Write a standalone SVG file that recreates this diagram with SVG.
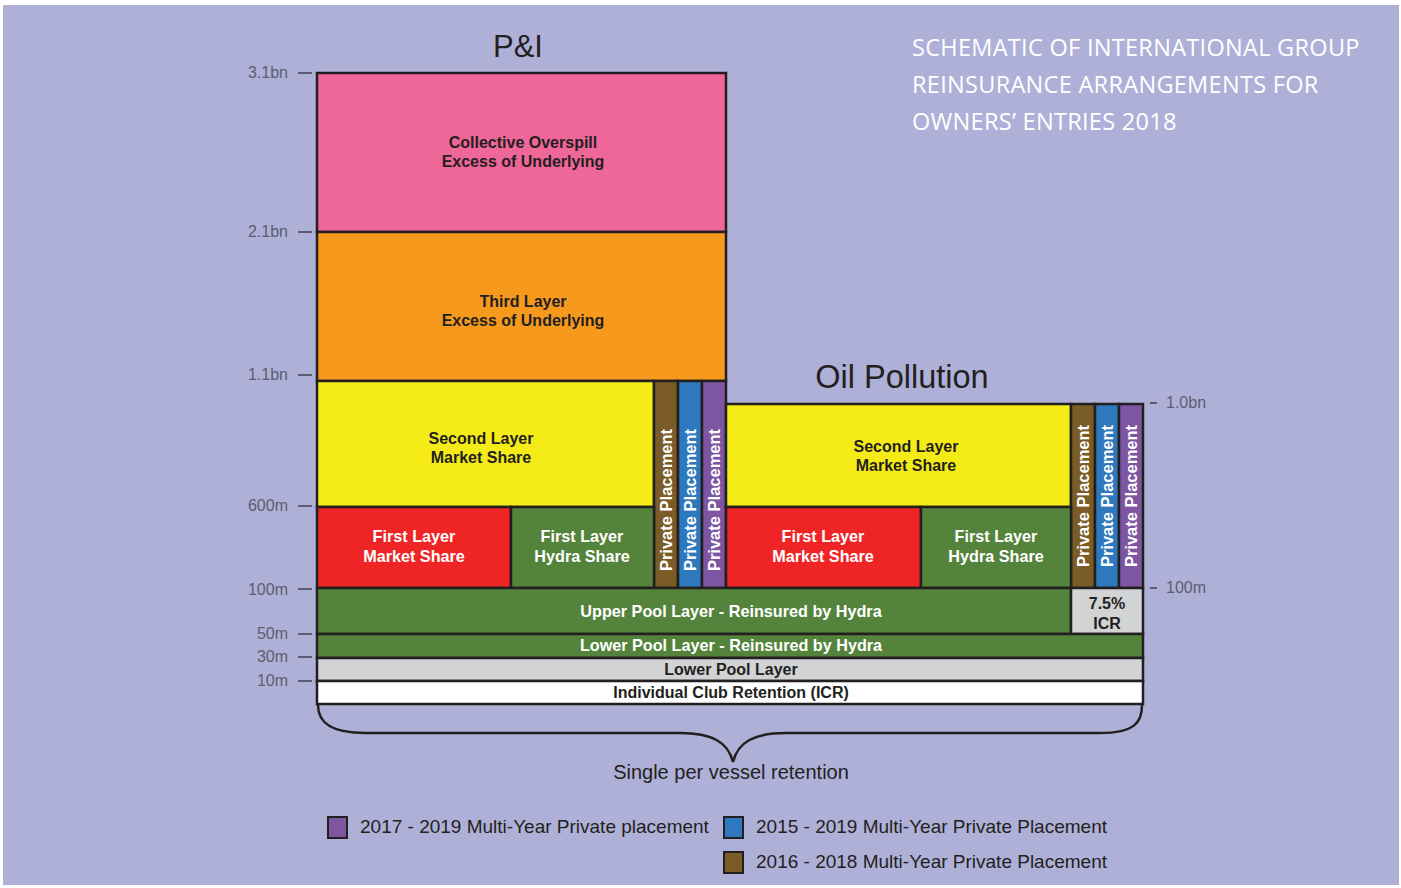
<svg xmlns="http://www.w3.org/2000/svg" width="1401" height="888" viewBox="0 0 1401 888">
<style>
.blk{stroke:#231F20;stroke-width:2.5}
.lbl{font-family:"Liberation Sans",Arial,sans-serif;font-weight:bold;font-size:16px;fill:#231F20;text-anchor:middle}
.wl{font-family:"Liberation Sans",Arial,sans-serif;font-weight:bold;font-size:16.2px;fill:#FFFFFF;text-anchor:middle}
.pp{font-family:"Liberation Sans",Arial,sans-serif;font-weight:bold;font-size:16.5px;fill:#FFFFFF;text-anchor:middle}
.ax{font-family:"Liberation Sans",Arial,sans-serif;font-size:16px;fill:#5C5D6E}
.tick{stroke:#5C5D6E;stroke-width:2}
.head{font-family:"Liberation Sans",Arial,sans-serif;font-size:31px;fill:#231F20;text-anchor:middle}
.title{font-family:"Open Sans","Liberation Sans",sans-serif;font-weight:400;font-size:23.5px;fill:#FFFFFF;letter-spacing:0.3px}
.leg{font-family:"Liberation Sans",Arial,sans-serif;font-size:19px;fill:#231F20}
.sw{stroke:#231F20;stroke-width:2}
</style>
<rect x="0" y="0" width="1401" height="888" fill="#FFFFFF"/>
<rect x="3" y="5" width="1396" height="880" fill="#AFB0D8"/>

<g id="titles">
<text class="head" x="518" y="57">P&amp;I</text>
<text class="head" x="902" y="388" style="font-size:32.5px">Oil Pollution</text>
<text class="title" x="912" y="56">SCHEMATIC OF INTERNATIONAL GROUP</text>
<text class="title" x="912" y="93">REINSURANCE ARRANGEMENTS FOR</text>
<text class="title" x="912" y="130">OWNERS’ ENTRIES 2018</text>
</g>

<g id="axis-left">
<line class="tick" x1="298" y1="73" x2="312" y2="73"/><text class="ax" x="288" y="78" text-anchor="end">3.1bn</text>
<line class="tick" x1="298" y1="232" x2="312" y2="232"/><text class="ax" x="288" y="237" text-anchor="end">2.1bn</text>
<line class="tick" x1="298" y1="375" x2="312" y2="375"/><text class="ax" x="288" y="380" text-anchor="end">1.1bn</text>
<line class="tick" x1="298" y1="506" x2="312" y2="506"/><text class="ax" x="288" y="511" text-anchor="end">600m</text>
<line class="tick" x1="298" y1="589" x2="312" y2="589"/><text class="ax" x="288" y="595" text-anchor="end">100m</text>
<line class="tick" x1="298" y1="634" x2="312" y2="634"/><text class="ax" x="288" y="639" text-anchor="end">50m</text>
<line class="tick" x1="298" y1="657" x2="312" y2="657"/><text class="ax" x="288" y="662" text-anchor="end">30m</text>
<line class="tick" x1="298" y1="681" x2="312" y2="681"/><text class="ax" x="288" y="686" text-anchor="end">10m</text>
</g>
<g id="axis-right">
<line class="tick" x1="1150" y1="403" x2="1157" y2="403"/><text class="ax" x="1166" y="408">1.0bn</text>
<line class="tick" x1="1150" y1="588" x2="1157" y2="588"/><text class="ax" x="1166" y="593">100m</text>
</g>

<g id="collective-overspill">
<rect class="blk" x="317" y="73" width="409" height="159" fill="#EF6699"/>
<text class="lbl" x="523" y="148">Collective Overspill</text>
<text class="lbl" x="523" y="167">Excess of Underlying</text>
</g>
<g id="third-layer">
<rect class="blk" x="317" y="232" width="409" height="149" fill="#F7991D"/>
<text class="lbl" x="523" y="307">Third Layer</text>
<text class="lbl" x="523" y="326">Excess of Underlying</text>
</g>
<g id="pi-second-layer">
<rect class="blk" x="317" y="381" width="337" height="126" fill="#F5EC17"/>
<text class="lbl" x="481" y="444">Second Layer</text>
<text class="lbl" x="481" y="463">Market Share</text>
</g>
<g id="pi-pp-brown">
<rect class="blk" x="654" y="381" width="24" height="207" fill="#7B5C27"/>
<text class="pp" transform="translate(671.5,500) rotate(-90)">Private Placement</text>
</g>
<g id="pi-pp-blue">
<rect class="blk" x="678" y="381" width="24" height="207" fill="#2E78BD"/>
<text class="pp" transform="translate(695.5,500) rotate(-90)">Private Placement</text>
</g>
<g id="pi-pp-purple">
<rect class="blk" x="702" y="381" width="24" height="207" fill="#7E55A1"/>
<text class="pp" transform="translate(719.5,500) rotate(-90)">Private Placement</text>
</g>
<g id="pi-first-market">
<rect class="blk" x="317" y="507" width="194" height="81" fill="#EE2425"/>
<text class="wl" x="414" y="542">First Layer</text>
<text class="wl" x="414" y="562">Market Share</text>
</g>
<g id="pi-first-hydra">
<rect class="blk" x="511" y="507" width="143" height="81" fill="#54833B"/>
<text class="wl" x="582" y="542">First Layer</text>
<text class="wl" x="582" y="562">Hydra Share</text>
</g>

<g id="op-second-layer">
<rect class="blk" x="726" y="404" width="345" height="103" fill="#F5EC17"/>
<text class="lbl" x="906" y="452">Second Layer</text>
<text class="lbl" x="906" y="471">Market Share</text>
</g>
<g id="op-pp-brown">
<rect class="blk" x="1071" y="404" width="24" height="184" fill="#7B5C27"/>
<text class="pp" transform="translate(1088.5,496) rotate(-90)">Private Placement</text>
</g>
<g id="op-pp-blue">
<rect class="blk" x="1095" y="404" width="24" height="184" fill="#2E78BD"/>
<text class="pp" transform="translate(1112.5,496) rotate(-90)">Private Placement</text>
</g>
<g id="op-pp-purple">
<rect class="blk" x="1119" y="404" width="24" height="184" fill="#7E55A1"/>
<text class="pp" transform="translate(1136.5,496) rotate(-90)">Private Placement</text>
</g>
<g id="op-first-market">
<rect class="blk" x="726" y="507" width="195" height="81" fill="#EE2425"/>
<text class="wl" x="823" y="542">First Layer</text>
<text class="wl" x="823" y="562">Market Share</text>
</g>
<g id="op-first-hydra">
<rect class="blk" x="921" y="507" width="150" height="81" fill="#54833B"/>
<text class="wl" x="996" y="542">First Layer</text>
<text class="wl" x="996" y="562">Hydra Share</text>
</g>

<g id="upper-pool">
<rect class="blk" x="317" y="588" width="754" height="46" fill="#54833B"/>
<text class="wl" x="731" y="617">Upper Pool Layer - Reinsured by Hydra</text>
</g>
<g id="icr-75">
<rect class="blk" x="1071" y="588" width="72" height="46" fill="#D1D3D4"/>
<text class="lbl" x="1107" y="609">7.5%</text>
<text class="lbl" x="1107" y="629">ICR</text>
</g>
<g id="lower-pool-hydra">
<rect class="blk" x="317" y="634" width="826" height="24" fill="#54833B"/>
<text class="wl" x="731" y="651">Lower Pool Layer - Reinsured by Hydra</text>
</g>
<g id="lower-pool">
<rect class="blk" x="317" y="658" width="826" height="23" fill="#D1D3D4"/>
<text class="lbl" x="731" y="675">Lower Pool Layer</text>
</g>
<g id="icr">
<rect class="blk" x="317" y="681" width="826" height="23" fill="#FFFFFF"/>
<text class="lbl" x="731" y="698">Individual Club Retention (ICR)</text>
</g>

<g id="connectors">
<path d="M318,705 C318,722 330,733 365,733 L680,733 C712,733 728,742 733,762 C738,742 754,733 786,733 L1100,733 C1135,733 1142,722 1142,705" fill="none" stroke="#231F20" stroke-width="2.5"/>
</g>
<g id="brace-label">
<text x="731" y="779" font-family="Liberation Sans,Arial,sans-serif" font-size="20" fill="#231F20" text-anchor="middle">Single per vessel retention</text>
</g>

<g id="legend">
<rect class="sw" x="328" y="817" width="19" height="21" fill="#7E55A1"/>
<text class="leg" x="360" y="833">2017 - 2019 Multi-Year Private placement</text>
<rect class="sw" x="724" y="817" width="19" height="21" fill="#2E78BD"/>
<text class="leg" x="756" y="833">2015 - 2019 Multi-Year Private Placement</text>
<rect class="sw" x="724" y="852" width="19" height="21" fill="#7B5C27"/>
<text class="leg" x="756" y="868">2016 - 2018 Multi-Year Private Placement</text>
</g>
</svg>
